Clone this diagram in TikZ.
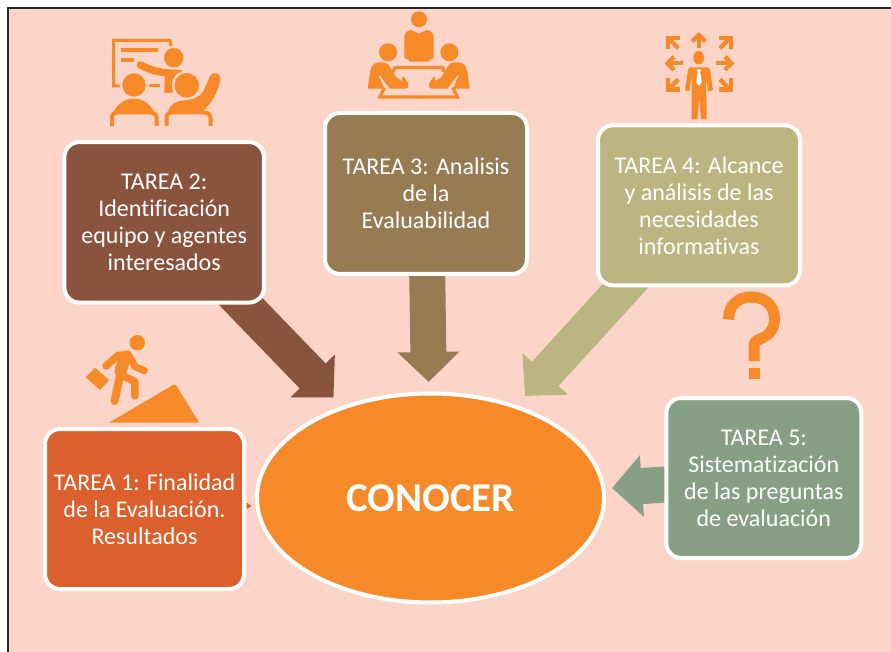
\documentclass[tikz,border=0pt]{standalone}
\usepackage{fontspec}
\setmainfont[Ligatures=CommonOff]{Carlito}
\usetikzlibrary{arrows.meta,shapes.geometric}
\pgfdeclarelayer{back}
\pgfsetlayers{back,main}
\definecolor{pinkbg}{HTML}{FCD5C8}
\definecolor{ico}{HTML}{F68A28}
\definecolor{cOne}{HTML}{DB602E}
\definecolor{cTwo}{HTML}{8A533E}
\definecolor{cThree}{HTML}{977C53}
\definecolor{cFour}{HTML}{BBB681}
\definecolor{cFive}{HTML}{87A085}
\tikzset{
  tarea/.style={draw=white,line width=4pt,rounded corners=15pt,align=center,text=white,inner sep=0pt,outer sep=0pt,
    font=\fontsize{24}{27}\selectfont},
  blockarrow/.style={line width=36pt,-{Triangle[length=30pt,width=60pt]}},
  icostroke/.style={draw=ico,line cap=butt,line join=miter},
}
\newcommand{\sidePerson}{%
  \fill[ico] (388,52.3) circle (9);
  \fill[ico] (367.7,88.7) -- (370,72) .. controls (371,65) and (375,62.3) .. (380,62.3)
    .. controls (385,62.3) and (388,63) .. (390,67) -- (396,77) -- (402,81) -- (402.5,77) -- (404,77) -- (408,83)
    .. controls (409,87) and (408,88.7) .. (405,88.7) -- (390,88.7) -- (379.3,76) -- (384,88.7) -- cycle;
  \draw[draw=pinkbg,line width=1.6pt] (379.3,76) -- (388.5,89);
  \draw[draw=ico,line width=3.4pt] (393,72) -- (395,67.5) -- (419,67.5);
  \draw[draw=ico,line width=3.2pt] (384.5,87.5) -- (380,97) -- (419,97);
}
\begin{document}
\begin{tikzpicture}[x=1pt,y=-1pt]
\useasboundingbox (0,0) rectangle (891,652);

\node[tarea,fill=cOne,minimum width=199pt,minimum height=160pt] (t1) at (144.5,509) {TAREA 1: Finalidad\\de la Evaluación.\\Resultados};
\node[tarea,fill=cTwo,minimum width=199.5pt,minimum height=160.5pt] (t2) at (164.2,222.3) {TAREA 2:\\Identificación\\equipo y agentes\\interesados};
\node[tarea,fill=cThree,minimum width=202pt,minimum height=161pt] (t3) at (426,193.5) {TAREA 3: Analisis\\de la\\Evaluabilidad};
\node[tarea,fill=cFour,minimum width=202pt,minimum height=160pt] (t4) at (699,205.3) {TAREA 4: Alcance\\y análisis de las\\necesidades\\informativas};
\node[tarea,fill=cFive,minimum width=195pt,minimum height=160pt] (t5) at (763.8,478) {TAREA 5:\\Sistematización\\de las preguntas\\de evaluación};
\node[draw=white,line width=4pt,fill=ico,ellipse,minimum width=347pt,minimum height=209pt,inner sep=0pt,outer sep=0pt,text=white,font=\fontsize{41}{44}\selectfont\bfseries] (con) at (430.5,498) {CONOCER};

\coordinate (tipOne) at (251.5,505.8);
\coordinate (tipTwo) at (333.5,397.5);
\coordinate (tipThree) at (428.8,382);
\coordinate (tipFour) at (525,396);
\coordinate (tipFive) at (612,488);
\begin{pgfonlayer}{back}
\fill[white] (0,0) rectangle (891,652);
\fill[pinkbg] (8,9) rectangle (891,652);
\fill[black!85] (7,7) rectangle (891,9);
\fill[black!85] (7,7) rectangle (8.5,652);
\draw[blockarrow,color=cTwo] (t2.center) -- (tipTwo);
\draw[blockarrow,color=cThree] (t3.center) -- (tipThree);
\draw[blockarrow,color=cFour] (t4.center) -- (tipFour);
\draw[blockarrow,color=cFive] (t5.center) -- (tipFive);
\draw[line width=1pt,color=cOne,-{Triangle[length=4.5pt,width=6pt]}] (t1.center) -- (tipOne);
\end{pgfonlayer}

% icon: classroom
\draw[icostroke,line width=3pt] (171,46) -- (170,40.5) -- (113.7,40.5) -- (113.7,85.8) -- (119.5,85.8);
\fill[ico] (121,48) rectangle (158,52);
\fill[ico] (121,58) rectangle (134,62);
\fill[ico] (149.3,83.7) rectangle (160,87.3);
\fill[ico] (173.7,57.7) circle (9.7);
\draw[draw=ico,line width=7.5pt,line cap=round] (140.5,65) .. controls (150,70) and (160,73) .. (175,73.5);
\fill[ico] (165,70) -- (182,70) -- (182,80) -- (173,92.7) -- (164.3,92.7) -- cycle;
\fill[pinkbg] (186.7,85.3) circle (14.8);
\fill[ico] (186.7,85.3) circle (12.3);
\fill[ico] (134,85) circle (11.7);
\fill[ico] (113.5,112) .. controls (118,103) and (126,98.7) .. (134,98.7) .. controls (142,98.7) and (150,103) .. (154,112) -- cycle;
\draw[icostroke,line width=4pt] (112,126) -- (112,118) .. controls (112,114.5) and (114,112.5) .. (117,112.5) -- (150,112.5) .. controls (154,112.5) and (156.5,114.5) .. (156.5,118) -- (156.5,126);
\fill[ico] (168,112) .. controls (170,104) and (176,101) .. (184,100.5) .. controls (194,99.5) and (200,97) .. (204,90) -- (210,76) .. controls (212,71) and (222,73) .. (220.5,79) .. controls (218,92) and (212,103) .. (202,112) -- cycle;
\draw[icostroke,line width=4pt] (166.5,126) -- (166.5,118) .. controls (166.5,114.5) and (168.5,112.5) .. (172,112.5) -- (204,112.5) .. controls (208,112.5) and (210.5,114.5) .. (210.5,118) -- (210.5,126);

% icon: meeting
\fill[ico] (419,19.3) circle (8);
\fill[ico] (404.3,58) -- (404.3,38) .. controls (404.3,33) and (407,30.5) .. (411,30) -- (419,33.5) -- (427,30) .. controls (431,30.5) and (433.7,33) .. (433.7,38) -- (433.7,58) -- (429,60) -- (429,61.7) -- (409,61.7) -- (409,60) -- cycle;
\sidePerson
\begin{scope}[shift={(837.4,0)},xscale=-1]
\sidePerson
\end{scope}

% icon: man with arrows
\fill[ico] (698.7,57.7) ellipse [x radius=5.4,y radius=6.8];
\fill[ico] (691,67.3) -- (706.5,67.3) .. controls (709,67.3) and (709.5,68) .. (710,70) -- (713,90) -- (708,91.5) -- (706,76) -- (706.7,119.3) -- (701,119.3) -- (699.2,98) -- (697.3,119.3) -- (691.7,119.3) -- (691.5,76) -- (689.5,91.5) -- (685,90) -- (688,70) .. controls (688.5,68) and (689,67.3) .. (691,67.3) -- cycle;
\fill[white] (696.7,69.3) -- (701,69.3) -- (700.2,72) -- (701.7,82) -- (699,86) -- (696.3,82) -- (697.6,72) -- cycle;
\begin{scope}[icostroke,line width=4.2pt]
\draw (698.7,48.5) -- (698.7,36);
\draw (692,41.5) -- (698.7,35) -- (705.4,41.5);
\draw (682.7,63.3) -- (669,63.3);
\draw (674,56.6) -- (667.5,63.3) -- (674,70);
\draw (716,63.3) -- (730,63.3);
\draw (725,56.6) -- (731.5,63.3) -- (725,70);
\draw (678.3,48.3) -- (669,39);
\draw (667.8,49.5) -- (667.8,37.8) -- (679.5,37.8);
\draw (720,48.3) -- (729,39);
\draw (719,37.8) -- (730.6,37.8) -- (730.6,49.5);
\draw (678.3,79.3) -- (669,88.5);
\draw (667.8,78) -- (667.8,89.6) -- (679.5,89.6);
\draw (720,79.3) -- (729,88.5);
\draw (719,89.6) -- (730.6,89.6) -- (730.6,78);
\end{scope}

% icon: walker
\fill[ico] (137.3,342.7) circle (7.7);
\fill[ico] (109,422.7) -- (174,384.5) .. controls (175,384) and (175.5,384) .. (176,385) -- (199,422.7) -- cycle;
\fill[ico] (85.7,377.3) -- (95,367.7) -- (109,380) -- (100,390) -- cycle;
\draw[draw=ico,line width=7.5pt,line cap=round,line join=round] (106,366) -- (118,355.5) -- (128,354.5);
\draw[draw=ico,line width=7pt,line cap=round,line join=round] (128,354) -- (135,366.5) -- (144.3,370.7);
\draw[draw=ico,line width=12pt,line cap=round] (125,358) -- (120.5,371);
\draw[draw=ico,line width=8pt,line cap=round,line join=round] (120,376) -- (114.5,401);
\draw[draw=ico,line width=7.5pt,line cap=round,line join=round] (121,375) -- (134.8,381.5) -- (134.8,396);

% icon: question mark
\draw[icostroke,line width=11pt] (728.5,319.5) .. controls (728.5,305) and (738,297) .. (751.5,297) .. controls (765,297) and (774.5,306) .. (774.5,319) .. controls (774.5,330) and (768,336) .. (760,339) .. controls (756,340.5) and (754,342) .. (754,347) -- (754,361);
\fill[ico] (749,368) rectangle (760,379);
\end{tikzpicture}
\end{document}
